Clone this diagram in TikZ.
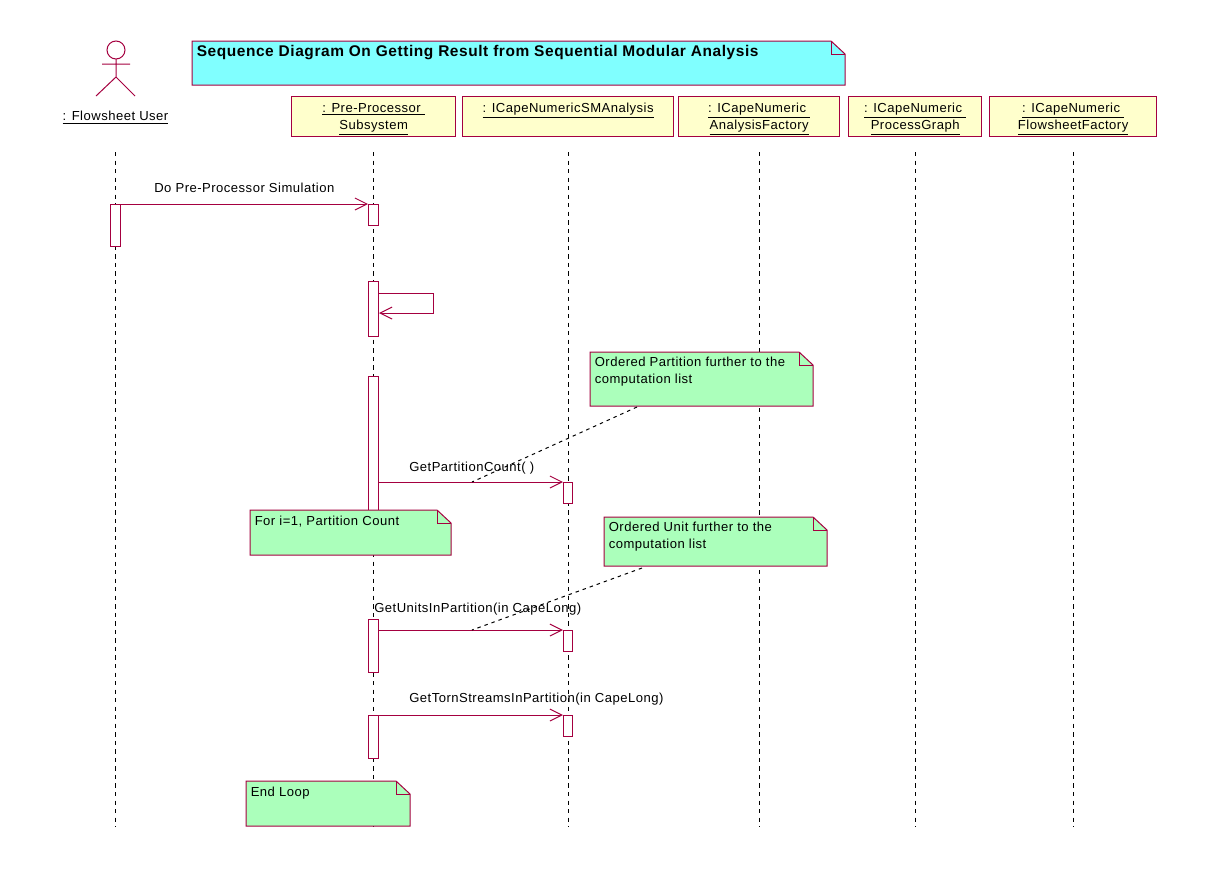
\documentclass[tikz,border=0pt]{standalone}
\usepackage{fontspec}
\setmainfont[LetterSpace=3.7]{Liberation Sans}
\usetikzlibrary{arrows.meta}
\definecolor{umlline}{HTML}{A50040}
\definecolor{titlefill}{HTML}{80FFFF}
\definecolor{notefill}{HTML}{ABFFBB}
\definecolor{objfill}{HTML}{FFFFCC}
\tikzset{
  x=0.75pt,y=-0.75pt,
  umlshape/.style={draw=umlline,line width=0.75pt},
  objbox/.style={umlshape,fill=objfill,anchor=north west,inner sep=0pt,align=center,font=\umlfont},
  lifeline/.style={draw=black,line width=0.75pt,dash pattern=on 3.2pt off 3.2pt},
  bar/.style={umlshape,fill=white,anchor=north west,inner sep=0pt},
  msg/.style={draw=umlline,line width=0.75pt,-{Straight Barb[length=9pt,width=9pt,line width=0.75pt]}},
  lbl/.style={font=\umlfont,inner sep=0pt,text=black},
  notetext/.style={font=\umlfont,inner sep=0pt,anchor=north west,align=left},
  notelink/.style={draw=black,line width=0.75pt,dash pattern=on 2.6pt off 3pt},
}
\newcommand{\umlfont}{\fontsize{9.8}{12.9}\selectfont}
% name, fill, x1, y1, x2, y2, text, text options
\newcommand{\notebox}[8]{%
  \pgfmathsetmacro{\fx}{#5-14}\pgfmathsetmacro{\fy}{#4+13}
  \draw[umlshape,fill=#2] (#3,#4) -- (\fx,#4) -- (#5,\fy) -- (#5,#6) -- (#3,#6) -- cycle;
  \draw[umlshape] (\fx,#4) -- (\fx,\fy) -- (#5,\fy);
  \node[notetext,#8] (#1) at (#3+4.5,#4+4.5) {#7};
}
\newcommand{\objbox}[6]{%
  \node[objbox,minimum width=#4*0.75pt-0.5pt,minimum height=41*0.75pt-0.5pt] (#1) at (#2,#3) {\rule{0pt}{10.4pt}#5\\#6};
}
\newcommand{\uu}[1]{\underline{#1}}
\begin{document}
\begin{tikzpicture}
\useasboundingbox (0,0) rectangle (1213,868);
\fill[white] (0,0) rectangle (1213,868);
% object heads
\objbox{ppbox}{291}{96}{165}{\uu{: Pre-Processor }}{\uu{Subsystem}}
\node[objbox,minimum width=212*0.75pt-0.5pt,minimum height=41*0.75pt-0.5pt,text depth=13pt] (smbox) at (462,96) {\uu{: ICapeNumericSMAnalysis}};
\objbox{afbox}{678}{96}{162}{\uu{: ICapeNumeric }}{\uu{AnalysisFactory}}
\objbox{pgbox}{848}{96}{134}{\uu{: ICapeNumeric }}{\uu{ProcessGraph}}
\objbox{ffbox}{989}{96}{168}{\uu{: ICapeNumeric }}{\uu{FlowsheetFactory}}
% actor
\draw[umlshape,fill=white] (116,50) circle[radius=9];
\draw[umlshape] (116,59) -- (116,77) (102,64) -- (130,64) (96,96) -- (116,77) -- (135,96);
\node[lbl] (actorlabel) at (115.5,117.5) {\uu{: Flowsheet User}};
% lifelines
\foreach \n/\x in {a/115,b/373,c/568,d/759,e/915,f/1073}{
  \coordinate (\n top) at (\x,152);
  \coordinate (\n end) at (\x,827);
  \draw[lifeline] (\n top) -- (\n end);
}
% activations
\newcommand{\actbar}[5]{\node[bar,minimum width=#4*0.75pt,minimum height=#5*0.75pt] (#1) at (#2,#3) {};}
\actbar{ua}{110}{204}{10}{42}
\actbar{pa}{368}{204}{10}{21}
\actbar{pb}{368}{281}{10}{55}
\actbar{pc}{368}{376}{10}{144}
\actbar{sa}{563}{482}{9}{21}
\actbar{pd}{368}{619}{10}{53}
\actbar{sb}{563}{630}{9}{21}
\actbar{pe}{368}{715}{10}{43}
\actbar{sc}{563}{715}{9}{21}
% messages
\draw[msg] (ua.north east) -- (pa.north west);
\node[lbl,anchor=base west] (m1) at (154,192) {Do Pre-Processor Simulation};
\coordinate (selfa) at (379,293);
\coordinate (selfb) at (433,293);
\coordinate (selfc) at (433,313);
\coordinate (selfd) at (379,313);
\draw[msg] (selfa) -- (selfb) -- (selfc) -- (selfd);
\draw[msg] (pc.east |- sa.north) -- (sa.north west);
\node[lbl,anchor=base west] (m2) at (409,471) {GetPartitionCount( )};
\draw[msg] (pd.east |- sb.north) -- (sb.north west);
\node[lbl,anchor=base west] (m3) at (374,612) {GetUnitsInPartition(in CapeLong)};
\draw[msg] (pe.east |- sc.north) -- (sc.north west);
\node[lbl,anchor=base west] (m4) at (409,702) {GetTornStreamsInPartition(in CapeLong)};
% notes
\notebox{title}{titlefill}{192}{41}{845}{85}{\bfseries\fontsize{11.6}{14}\selectfont Sequence Diagram On Getting Result from Sequential Modular Analysis}{}
\notebox{n1}{notefill}{590}{352}{813}{406}{Ordered Partition further to the\\computation list}{}
\notebox{n2}{notefill}{604}{517}{827}{566}{Ordered Unit further to the\\computation list}{}
\notebox{n3}{notefill}{250}{510}{451}{555}{For i=1, Partition Count}{yshift=-0.6pt}
\notebox{n4}{notefill}{246}{781}{410}{826}{End Loop}{yshift=-1.2pt}
\coordinate (n1foot) at (637,407);
\coordinate (n1tip) at (472,482);
\coordinate (n2foot) at (642,568);
\coordinate (n2tip) at (472,630);
\draw[notelink] (n1foot) -- (n1tip);
\draw[notelink] (n2foot) -- (n2tip);
\end{tikzpicture}
\end{document}
